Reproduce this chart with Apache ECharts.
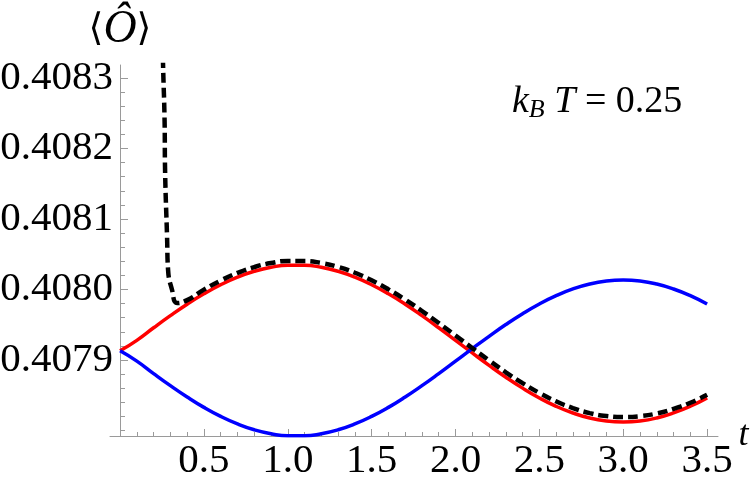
<!DOCTYPE html>
<html>
<head>
<meta charset="utf-8">
<script src="https://cdn.jsdelivr.net/npm/echarts@6/dist/echarts.min.js"></script>
<style>
  html, body { margin: 0; padding: 0; background: #fff; }
  #chart { width: 750px; height: 486px; }
</style>
</head>
<body>
<div id="chart"></div>
<script>
// time samples for the red / blue curves
const tValues = [0.0, 0.1, 0.2, 0.3, 0.4, 0.5, 0.6, 0.7, 0.8, 0.9, 1.0, 1.1, 1.2, 1.3, 1.4, 1.5, 1.6, 1.7,
  1.8, 1.9, 2.0, 2.1, 2.2, 2.3, 2.4, 2.5, 2.6, 2.7, 2.8, 2.9, 3.0, 3.1, 3.2, 3.3, 3.4, 3.5];

const redValues = [0.4079130, 0.4079279, 0.4079457, 0.4079629, 0.4079791, 0.4079938, 0.4080067, 0.4080175,
  0.4080258, 0.4080315, 0.4080344, 0.4080344, 0.4080315, 0.4080258, 0.4080175, 0.4080067, 0.4079938,
  0.4079791, 0.4079629, 0.4079457, 0.4079279, 0.4079100, 0.4078924, 0.4078756, 0.4078601, 0.4078462,
  0.4078343, 0.4078248, 0.4078177, 0.4078135, 0.4078121, 0.4078135, 0.4078178, 0.4078249, 0.4078344,
  0.4078463];

const blueValues = [0.4079130, 0.4078984, 0.4078807, 0.4078636, 0.4078475, 0.4078328, 0.4078200, 0.4078093,
  0.4078010, 0.4077954, 0.4077925, 0.4077925, 0.4077954, 0.4078010, 0.4078093, 0.4078200, 0.4078328,
  0.4078475, 0.4078636, 0.4078807, 0.4078984, 0.4079162, 0.4079336, 0.4079503, 0.4079657, 0.4079795,
  0.4079913, 0.4080008, 0.4080078, 0.4080120, 0.4080134, 0.4080120, 0.4080077, 0.4080007, 0.4079912,
  0.4079794];

// dashed approximation (starts near t = 0.25)
const dashT = [0.254, 0.2564, 0.2654, 0.2683, 0.2803, 0.2862, 0.3101, 0.3399, 0.4, 0.5, 0.6, 0.7, 0.8, 0.9,
  1.0, 1.1, 1.2, 1.3, 1.4, 1.5, 1.6, 1.7, 1.8, 1.9, 2.0, 2.1, 2.2, 2.3, 2.4, 2.5, 2.6, 2.7, 2.8, 2.9,
  3.0, 3.1, 3.2, 3.3, 3.4, 3.5];
const dashValues = [0.4083500, 0.4083180, 0.4082400, 0.4081700, 0.4080740, 0.4080280, 0.4079993, 0.4079808,
  0.4079849, 0.4079998, 0.4080127, 0.4080235, 0.4080318, 0.4080375, 0.4080404, 0.4080404, 0.4080376,
  0.4080320, 0.4080237, 0.4080130, 0.4080002, 0.4079856, 0.4079695, 0.4079524, 0.4079347, 0.4079169,
  0.4078994, 0.4078826, 0.4078671, 0.4078532, 0.4078413, 0.4078318, 0.4078247, 0.4078205, 0.4078191,
  0.4078203, 0.4078241, 0.4078306, 0.4078394, 0.4078506];

// ticks
const xMajorTicks = [0.5, 1.0, 1.5, 2.0, 2.5, 3.0, 3.5];
const xMinorTicks = [0.1, 0.2, 0.3, 0.4, 0.6, 0.7, 0.8, 0.9, 1.1, 1.2, 1.3, 1.4, 1.6, 1.7, 1.8, 1.9,
  2.1, 2.2, 2.3, 2.4, 2.6, 2.7, 2.8, 2.9, 3.1, 3.2, 3.3, 3.4];
const yMajorTicks = [0.4079, 0.4080, 0.4081, 0.4082, 0.4083];
const yMinorTicks = [0.40780, 0.40782, 0.40784, 0.40786, 0.40788, 0.40792, 0.40794, 0.40796, 0.40798,
  0.40802, 0.40804, 0.40806, 0.40808, 0.40812, 0.40814, 0.40816, 0.40818,
  0.40822, 0.40824, 0.40826, 0.40828];

const X_MIN = -0.06, X_MAX = 3.565;
const Y_MIN = 0.4077922, Y_MAX = 0.4083184;

const serif = 'Liberation Serif';
const axisGray = '#9a9a9a';

function pairs(xs, ys) {
  return xs.map((x, i) => [x, ys[i]]);
}

let myChart = echarts.init(document.getElementById('chart'));
myChart.setOption({
  animation: false,
  backgroundColor: '#fff',
  textStyle: { fontFamily: serif },
  grid: { left: 110, right: 32, top: 65, bottom: 50, containLabel: false, outerBoundsMode: 'none' },
  xAxis: [
    {
      type: 'value', min: X_MIN, max: X_MAX, position: 'bottom',
      axisLine: { show: true, onZero: false, lineStyle: { color: axisGray, width: 1 } },
      axisTick: { show: true, inside: true, length: 7, customValues: xMajorTicks, lineStyle: { color: axisGray } },
      axisLabel: {
        show: true, customValues: xMajorTicks, margin: 5,
        color: '#000', fontFamily: serif, fontSize: 41,
        formatter: v => v.toFixed(1)
      },
      splitLine: { show: false },
      name: 't', nameLocation: 'end', nameGap: 18,
      nameTextStyle: { fontFamily: serif, fontStyle: 'italic', fontSize: 36, color: '#000', verticalAlign: 'middle' }
    },
    {
      type: 'value', min: X_MIN, max: X_MAX, position: 'bottom',
      axisLine: { show: false, onZero: false },
      axisTick: { show: true, inside: true, length: 4, customValues: xMinorTicks, lineStyle: { color: axisGray } },
      axisLabel: { show: false },
      splitLine: { show: false }
    }
  ],
  yAxis: [
    {
      // moved right onto t = 0 (grid starts a bit left of it)
      type: 'value', min: Y_MIN, max: Y_MAX, position: 'left', offset: -10,
      axisLine: { show: true, onZero: false, lineStyle: { color: axisGray, width: 1 } },
      axisTick: { show: true, inside: true, length: 8, customValues: yMajorTicks, lineStyle: { color: axisGray } },
      axisLabel: {
        show: true, customValues: yMajorTicks, margin: 7,
        color: '#000', fontFamily: serif, fontSize: 41,
        formatter: v => v.toFixed(4)
      },
      splitLine: { show: false },
      name: '{a|\u27E8}{o|\u00D4}{a|\u27E9}', nameLocation: 'end', nameGap: 12,
      nameTextStyle: {
        align: 'center',
        rich: {
          a: { fontFamily: 'DejaVu Serif', fontSize: 38, color: '#000' },
          o: { fontFamily: serif, fontStyle: 'italic', fontSize: 46, color: '#000' }
        }
      }
    },
    {
      type: 'value', min: Y_MIN, max: Y_MAX, position: 'left', offset: -10,
      axisLine: { show: false, onZero: false },
      axisTick: { show: true, inside: true, length: 5, customValues: yMinorTicks, lineStyle: { color: axisGray } },
      axisLabel: { show: false },
      splitLine: { show: false }
    }
  ],
  graphic: [
    {
      type: 'text', left: 512, top: 83, silent: true,
      style: {
        text: '{i|k}{s|B}{n| }{i|T}{n| = 0.25}',
        fill: '#000',
        rich: {
          i: { fontFamily: serif, fontStyle: 'italic', fontSize: 38, fill: '#000' },
          n: { fontFamily: serif, fontStyle: 'normal', fontSize: 38, fill: '#000' },
          s: { fontFamily: serif, fontStyle: 'italic', fontSize: 26, fill: '#000', verticalAlign: 'bottom', padding: [17, 0, 0, 0] }
        }
      }
    }
  ],
  series: [
    {
      name: 'red', type: 'line', xAxisIndex: 0, yAxisIndex: 0,
      data: pairs(tValues, redValues),
      showSymbol: false, smooth: true,
      lineStyle: { color: '#ff0000', width: 3.5 }
    },
    {
      name: 'blue', type: 'line', xAxisIndex: 0, yAxisIndex: 0,
      data: pairs(tValues, blueValues),
      showSymbol: false, smooth: true,
      lineStyle: { color: '#0000ff', width: 3.5 }
    },
    {
      name: 'approx', type: 'line', xAxisIndex: 0, yAxisIndex: 0,
      data: pairs(dashT, dashValues),
      showSymbol: false, smooth: 0.5, clip: true,
      lineStyle: { color: '#000', width: 4.5, type: [10, 5], cap: 'butt' }
    }
  ]
});
</script>
</body>
</html>
